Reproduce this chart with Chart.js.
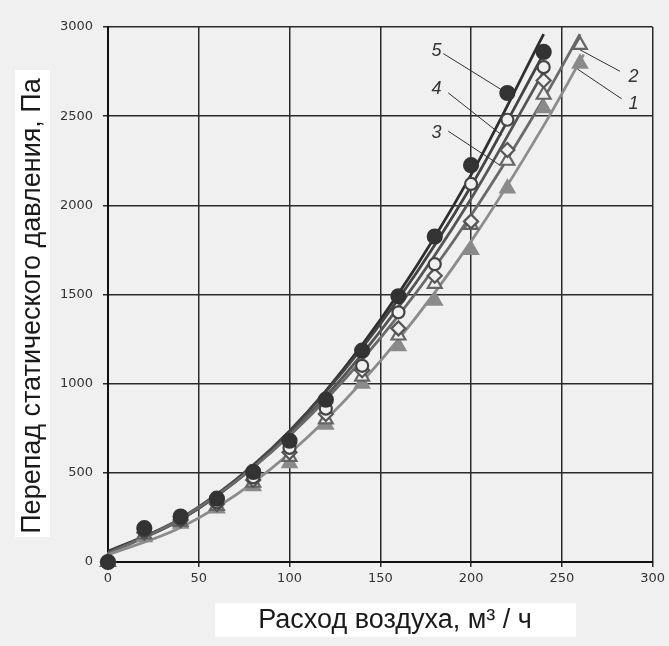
<!DOCTYPE html>
<html><head><meta charset="utf-8">
<script src="https://cdn.jsdelivr.net/npm/chart.js@4.4.1/dist/chart.umd.min.js"></script>
<style>html,body{margin:0;padding:0;background:#f0f0f0;}#wrap{width:669px;height:646px;}</style>
</head><body><div id="wrap"><canvas id="c" width="669" height="646"></canvas></div>
<script>
// ---- data ----
const flowX = [0, 20, 40, 60, 80, 100, 120, 140, 160, 180, 200, 220, 240, 260];
const series1 = [0, 140, 215, 300, 425, 555, 770, 1000, 1210, 1465, 1750, 2095, 2545, 2795];
const series2 = [0, 155, 225, 315, 445, 590, 800, 1040, 1270, 1560, 1890, 2250, 2620, 2900];
const series3 = [0, 165, 235, 325, 460, 615, 830, 1075, 1310, 1605, 1910, 2310, 2700];
const series4 = [0, 175, 240, 335, 475, 640, 860, 1100, 1400, 1670, 2120, 2480, 2775];
const series5 = [0, 190, 255, 355, 505, 680, 910, 1185, 1490, 1825, 2225, 2630, 2860];

const trendX = [0, 40, 80, 120, 160, 200, 240, 262];
const trendX2 = [0, 40, 80, 120, 160, 200, 240, 260];
const trendXShort = [0, 40, 80, 120, 160, 200, 240];
const trend1 = [40, 193, 445, 797, 1248, 1798, 2447, 2845];
const trend2 = [45, 242, 530, 910, 1381, 1944, 2598, 2960];
const trend3 = [50, 237, 530, 928, 1429, 2037, 2750];
const trend4 = [55, 244, 543, 954, 1475, 2107, 2850];
const trend5 = [60, 238, 537, 960, 1505, 2171, 2960];

const xTicks = [0, 50, 100, 150, 200, 250, 300];
const yTicks = [0, 500, 1000, 1500, 2000, 2500, 3000];
const curveNames = ['1', '2', '3', '4', '5'];
const xTitle = 'Расход воздуха, м³ / ч';
const yTitle = 'Перепад статического давления, Па';

// label anchor points (data coordinates): text pos, leader start, leader end
const labelAnchors = [
  {t: [289.5, 2571], a: [283, 2597], b: [258.5, 2765]},
  {t: [289.5, 2721], a: [282, 2752], b: [260, 2872]},
  {t: [181, 2407], a: [187.4, 2416], b: [215.9, 2225]},
  {t: [181, 2655], a: [187.4, 2631], b: [216.9, 2394]},
  {t: [181, 2866], a: [184.7, 2851], b: [218.7, 2636]}
];

const pts = (xs, ys) => ys.map((y, i) => ({x: xs[i], y: y}));
const BG = '#f0f0f0';

const marker = (data, style, fill, border, r, order) => ({
  type: 'scatter', data: data, showLine: false, pointStyle: style, clip: false,
  pointRadius: r, pointHoverRadius: r, pointBackgroundColor: fill,
  pointBorderColor: border, pointBorderWidth: 2.2, order: order
});
const trend = (data, color) => ({
  type: 'line', data: data, borderColor: color, borderWidth: 2.8,
  pointRadius: 0, fill: false, cubicInterpolationMode: 'monotone', order: 10
});

const decor = {
  id: 'decor',
  beforeDraw(chart) {
    const ctx = chart.ctx;
    ctx.save();
    ctx.fillStyle = BG;
    ctx.fillRect(0, 0, chart.width, chart.height);
    ctx.fillStyle = '#ffffff';
    ctx.fillRect(15, 70, 35, 467);
    ctx.fillRect(215, 603, 361, 34);
    ctx.restore();
  },
  afterDraw(chart) {
    const ctx = chart.ctx, xs = chart.scales.x, ys = chart.scales.y;
    ctx.save();
    ctx.fillStyle = '#1a1a1a';
    ctx.font = '27px "Liberation Sans", Arial, sans-serif';
    ctx.textAlign = 'center'; ctx.textBaseline = 'middle';
    ctx.fillText(xTitle, 395, 621);
    ctx.translate(33, 306);
    ctx.rotate(-Math.PI / 2);
    ctx.fillText(yTitle, 0, 0);
    ctx.restore();

    ctx.save();
    ctx.strokeStyle = '#333'; ctx.lineWidth = 1;
    ctx.fillStyle = '#333';
    ctx.font = 'italic 18px "Liberation Sans", Arial, sans-serif';
    ctx.textAlign = 'center'; ctx.textBaseline = 'middle';
    labelAnchors.forEach((l, i) => {
      ctx.beginPath();
      ctx.moveTo(xs.getPixelForValue(l.a[0]), ys.getPixelForValue(l.a[1]));
      ctx.lineTo(xs.getPixelForValue(l.b[0]), ys.getPixelForValue(l.b[1]));
      ctx.stroke();
      ctx.fillText(curveNames[i], xs.getPixelForValue(l.t[0]), ys.getPixelForValue(l.t[1]));
    });
    ctx.restore();
  }
};

const tickFont = {family: '"DejaVu Sans", sans-serif', size: 13};

new Chart(document.getElementById('c'), {
  data: {
    datasets: [
      marker(pts(flowX, series1), 'triangle', '#8a8a8a', '#8a8a8a', 8, 5),
      marker(pts(flowX, series2), 'triangle', BG, '#666666', 8, 4),
      marker(pts(flowX, series3), 'rectRot', BG, '#555555', 7, 3),
      marker(pts(flowX, series4), 'circle', BG, '#444444', 6, 2),
      marker(pts(flowX, series5), 'circle', '#333333', '#333333', 7, 1),
      trend(pts(trendX, trend1), '#8c8c8c'),
      trend(pts(trendX2, trend2), '#6a6a6a'),
      trend(pts(trendXShort, trend3), '#555555'),
      trend(pts(trendXShort, trend4), '#444444'),
      trend(pts(trendXShort, trend5), '#2e2e2e')
    ]
  },
  options: {
    responsive: false, animation: false, devicePixelRatio: 1,
    layout: {padding: {top: 27, right: 16, left: 0, bottom: 0}},
    plugins: {legend: {display: false}, tooltip: {enabled: false}},
    scales: {
      x: {
        type: 'linear', min: 0, max: 300,
        afterBuildTicks: s => { s.ticks = xTicks.map(v => ({value: v})); },
        afterFit: s => { s.height = 84; },
        grid: {color: '#2a2a2a', lineWidth: 1.5, tickLength: 5},
        border: {color: '#111', width: 2},
        ticks: {color: '#333', font: tickFont, padding: 4, maxRotation: 0, callback: v => String(v)}
      },
      y: {
        type: 'linear', min: 0, max: 3000,
        afterBuildTicks: s => { s.ticks = yTicks.map(v => ({value: v})); },
        afterFit: s => { s.width = 108; },
        grid: {color: '#2a2a2a', lineWidth: 1.5, tickLength: 5},
        border: {color: '#111', width: 2},
        ticks: {color: '#333', font: tickFont, padding: 10, callback: v => String(v)}
      }
    }
  },
  plugins: [decor]
});
</script></body></html>
